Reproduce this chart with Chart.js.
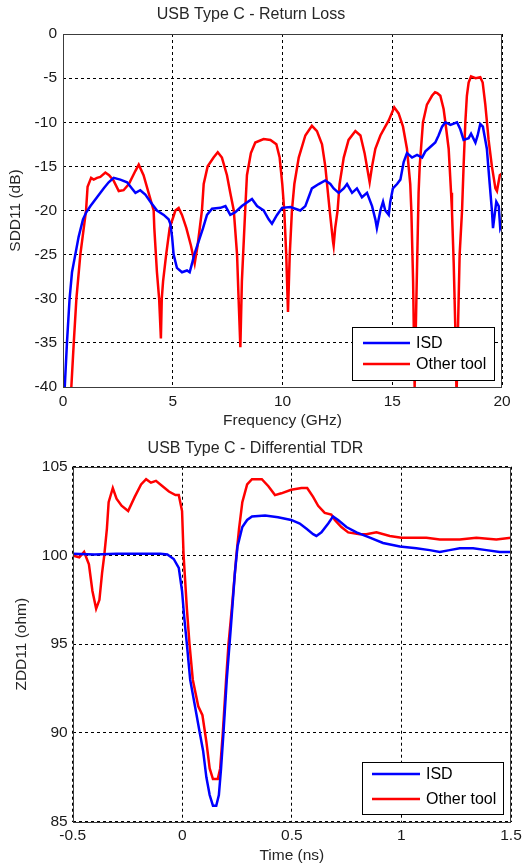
<!DOCTYPE html>
<html>
<head>
<meta charset="utf-8">
<title>USB Type C - Return Loss / Differential TDR</title>
<script src="https://cdn.jsdelivr.net/npm/chart.js@4.4.0/dist/chart.umd.min.js"></script>
<style>
  html, body { margin: 0; padding: 0; background: #fff; }
  #wrap { position: relative; width: 532px; height: 867px; }
  canvas { position: absolute; left: 0; }
</style>
</head>
<body>
<div id="wrap">
  <canvas id="rlChart" width="532" height="433" style="top:0"></canvas>
  <canvas id="tdrChart" width="532" height="434" style="top:433px"></canvas>
</div>
<script>
// --- Data ---
const seriesNames = ['ISD', 'Other tool'];

// Return loss (SDD11, dB) vs frequency (GHz)
const rlTicksX = [0, 5, 10, 15, 20];
const rlTicksY = [0, -5, -10, -15, -20, -25, -30, -35, -40];
const rlLabelsX = ['0', '5', '10', '15', '20'];
const rlLabelsY = ['0', '-5', '-10', '-15', '-20', '-25', '-30', '-35', '-40'];

const isdRlFreq = [0.05, 0.08, 0.18, 0.3, 0.41, 0.56, 0.71, 0.91, 1.06, 1.25, 1.55, 1.85, 2.08, 2.31, 2.61, 2.92, 3.14, 3.3, 3.52, 3.75,
  3.98, 4.28, 4.59, 4.81, 4.89, 4.97, 5.04, 5.19, 5.42, 5.65, 5.77, 5.88, 5.98, 6.18, 6.38, 6.56, 6.79, 7.17, 7.4, 7.62,
  7.85, 8.15, 8.61, 8.84, 9.14, 9.37, 9.52, 9.75, 9.98, 10.36, 10.81, 11.04, 11.19, 11.34, 11.65, 11.95, 12.18, 12.33, 12.56, 12.79,
  12.94, 13.17, 13.39, 13.62, 13.85, 14.08, 14.23, 14.3, 14.46, 14.58, 14.68, 14.84, 14.91, 15.03, 15.22, 15.37, 15.52, 15.67, 15.9, 16.13,
  16.36, 16.51, 16.73, 16.96, 17.11, 17.27, 17.42, 17.65, 17.95, 18.1, 18.25, 18.48, 18.59, 18.79, 18.89, 19.01, 19.13, 19.31, 19.44, 19.54,
  19.59, 19.74, 19.85, 19.92, 20];
const isdRlDb = [-41, -40, -35, -30, -27, -25, -23, -21, -20.2, -19.5, -18.5, -17.5, -16.8, -16.3, -16.5, -16.8, -17.5, -18, -17.7, -18.2,
  -19, -20, -20.5, -21, -21.5, -23, -25, -26.5, -27, -26.8, -27, -26, -25, -23.5, -22, -20.5, -19.8, -19.7, -19.5, -20.5,
  -20.2, -19.5, -18.7, -19.5, -20, -21, -21.5, -20.5, -19.7, -19.6, -20, -19.5, -18.5, -17.5, -17, -16.6, -17, -17.5, -18, -17.5,
  -17, -18, -17.5, -18.5, -18, -19.5, -21, -22, -20, -19, -20, -20.5, -19, -17.5, -17, -16.5, -14.5, -13.5, -14, -13.7,
  -14, -13.3, -12.8, -12.3, -11.5, -10.5, -10, -10.3, -10, -10.8, -12, -11.8, -11.3, -12.3, -11.5, -10.2, -10.5, -13, -17, -20,
  -22, -19, -19.5, -22, -21.5];

const otherRlFreq = [0.33, 0.38, 0.49, 0.61, 0.79, 1.05, 1.12, 1.28, 1.4, 1.55, 1.7, 1.93, 2.1, 2.3, 2.54, 2.76, 3.0, 3.3, 3.45, 3.67,
  3.9, 4.13, 4.16, 4.28, 4.38, 4.46, 4.5, 4.56, 4.7, 4.86, 5.12, 5.27, 5.42, 5.62, 5.83, 6.0, 6.13, 6.33, 6.41, 6.59,
  6.86, 7.05, 7.24, 7.47, 7.62, 7.78, 7.93, 8.0, 8.08, 8.15, 8.3, 8.38, 8.56, 8.76, 9.14, 9.45, 9.72, 9.87, 9.99, 10.08,
  10.17, 10.25, 10.33, 10.43, 10.54, 10.74, 11.04, 11.34, 11.57, 11.8, 11.95, 12.07, 12.15, 12.3, 12.33, 12.4, 12.51, 12.6, 12.79, 13.01,
  13.32, 13.55, 13.74, 13.97, 14.08, 14.23, 14.46, 14.68, 14.84, 15.09, 15.29, 15.49, 15.67, 15.82, 15.87, 15.95, 16.02, 16.1, 16.2, 16.25,
  16.4, 16.58, 16.81, 16.95, 17.05, 17.19, 17.34, 17.42, 17.57, 17.68, 17.72, 17.8, 17.87, 17.93, 17.98, 18.07, 18.18, 18.25, 18.33, 18.4,
  18.48, 18.59, 18.8, 19.01, 19.12, 19.24, 19.39, 19.54, 19.7, 19.77, 19.9, 20];
const otherRlDb = [-41, -40, -35, -30, -25, -20, -17.3, -16.3, -16.5, -16.3, -16.2, -15.7, -16, -16.6, -17.8, -17.7, -17, -15.5, -14.8, -16,
  -18, -20, -22, -27, -30, -34.5, -30, -28, -25, -22, -20, -19.7, -20.5, -22, -24, -26, -24, -20, -17, -15,
  -14, -13.4, -14, -16, -18, -20, -25, -30, -35.5, -28, -20, -16, -13.5, -12.3, -11.9, -12, -12.5, -14, -17, -20,
  -25, -31.5, -25, -20, -17, -14, -11.5, -10.4, -11, -12.5, -15, -18, -20, -23.5, -24, -22, -20, -17, -14, -12,
  -11, -11.5, -13.5, -16.8, -15, -13, -11.5, -10.5, -9.8, -8.3, -9, -10.5, -13, -17, -20, -28, -40, -30, -18, -15,
  -10, -8, -7, -6.6, -6.7, -7, -8.5, -10, -13, -18, -20, -26, -33, -41, -35, -25, -20, -15, -10, -7,
  -5.5, -4.8, -5, -4.9, -5.5, -8, -12, -15, -17.5, -17.8, -16, -15.8];

// Differential TDR (ZDD11, ohm) vs time (ns)
const tdrTicksX = [-0.5, 0, 0.5, 1, 1.5];
const tdrTicksY = [85, 90, 95, 100, 105];
const tdrLabelsX = ['-0.5', '0', '0.5', '1', '1.5'];
const tdrLabelsY = ['85', '90', '95', '100', '105'];

const isdTdrTime = [-0.5, -0.4, -0.3, -0.2, -0.1, -0.068, -0.039, -0.016, -0.001, 0.009, 0.021, 0.036, 0.058, 0.08, 0.095, 0.11, 0.125, 0.14, 0.155, 0.167,
  0.177, 0.188, 0.203, 0.222, 0.24, 0.252, 0.274, 0.296, 0.318, 0.378, 0.437, 0.497, 0.536, 0.567, 0.597, 0.612, 0.635, 0.666, 0.688, 0.711,
  0.749, 0.795, 0.856, 0.916, 0.993, 1.068, 1.129, 1.175, 1.22, 1.266, 1.327, 1.388, 1.448, 1.5];
const isdTdrOhm = [100.1, 100.05, 100.1, 100.1, 100.1, 100.05, 99.8, 99.3, 98, 96.5, 95, 93, 91.5, 90, 89, 87.5, 86.5, 85.9, 85.9, 86.5,
  88, 90, 93, 96, 99, 100.5, 101.6, 102, 102.2, 102.25, 102.15, 102, 101.8, 101.5, 101.2, 101.1, 101.3, 101.8, 102.2, 102,
  101.6, 101.3, 101, 100.7, 100.5, 100.4, 100.3, 100.2, 100.3, 100.4, 100.4, 100.3, 100.2, 100.2];

const otherTdrTime = [-0.5, -0.47, -0.448, -0.426, -0.41, -0.393, -0.378, -0.366, -0.356, -0.344, -0.336, -0.317, -0.3, -0.277, -0.247, -0.217, -0.188, -0.165, -0.143, -0.12,
  -0.09, -0.061, -0.031, -0.016, -0.001, 0.006, 0.021, 0.033, 0.048, 0.073, 0.092, 0.11, 0.125, 0.14, 0.162, 0.173, 0.185, 0.2, 0.211, 0.226,
  0.247, 0.259, 0.274, 0.296, 0.318, 0.363, 0.393, 0.423, 0.452, 0.497, 0.544, 0.57, 0.597, 0.62, 0.65, 0.68, 0.696, 0.726, 0.757, 0.81,
  0.84, 0.886, 0.947, 1.0, 1.114, 1.175, 1.266, 1.342, 1.433, 1.5];
const otherTdrOhm = [100, 99.9, 100.2, 99.5, 98, 97, 97.5, 99, 100, 101.5, 103, 103.8, 103.2, 102.8, 102.5, 103.3, 104, 104.3, 104.1, 104.2,
  103.9, 103.6, 103.4, 103.4, 102.5, 100, 97, 95, 93, 91.5, 91, 89.5, 88, 87.4, 87.4, 88, 90, 93, 95, 97,
  100, 101.5, 103, 104, 104.3, 104.3, 103.9, 103.4, 103.5, 103.7, 103.8, 103.8, 103.3, 102.8, 102.4, 102.3, 102, 101.6, 101.3, 101.2,
  101.2, 101.3, 101.1, 101, 101, 100.9, 100.9, 101, 100.9, 101];

// --- Helpers ---
const FONT = '"Liberation Sans", Arial, sans-serif';
const BLUE = '#0000ff';
const RED = '#ff0000';

function toPoints(xs, ys) {
  return xs.map((x, i) => ({ x: x, y: ys[i] }));
}

// Draws the MATLAB-style box round the plot area and the boxed legend on top of the data
const matlabFrame = {
  id: 'matlabFrame',
  afterDatasetsDraw(chart, args, opts) {
    const { ctx, chartArea: a } = chart;
    ctx.save();
    ctx.strokeStyle = '#3c3c3c';
    ctx.lineWidth = 1;
    ctx.setLineDash([]);
    ctx.strokeRect(Math.round(a.left) + 0.5, Math.round(a.top) + 0.5,
      Math.round(a.right - a.left) - 1, Math.round(a.bottom - a.top));

    const lg = opts.legend;
    ctx.fillStyle = '#fff';
    ctx.fillRect(lg.x, lg.y, lg.w, lg.h);
    ctx.strokeStyle = '#000';
    ctx.strokeRect(lg.x + 0.5, lg.y + 0.5, lg.w, lg.h);
    ctx.font = '16px ' + FONT;
    ctx.textBaseline = 'middle';
    ctx.textAlign = 'left';
    chart.data.datasets.forEach((ds, i) => {
      const y = lg.rows[i];
      ctx.strokeStyle = ds.borderColor;
      ctx.lineWidth = 2.5;
      ctx.beginPath();
      ctx.moveTo(lg.lineX1, y);
      ctx.lineTo(lg.lineX2, y);
      ctx.stroke();
      ctx.fillStyle = '#000';
      ctx.fillText(ds.label, lg.textX, y + 1);
    });
    ctx.restore();
  }
};

function makeChart(canvasId, cfg) {
  const ctx = document.getElementById(canvasId).getContext('2d');
  return new Chart(ctx, {
    type: 'line',
    data: {
      datasets: [
        { label: seriesNames[0], data: cfg.isd, borderColor: BLUE, borderWidth: 2.5, pointRadius: 0, fill: false },
        { label: seriesNames[1], data: cfg.other, borderColor: RED, borderWidth: 2.5, pointRadius: 0, fill: false }
      ]
    },
    options: {
      responsive: false,
      animation: false,
      devicePixelRatio: 1,
      layout: { padding: { left: 0, right: cfg.padRight, top: 0, bottom: 0 } },
      plugins: {
        legend: { display: false },
        tooltip: { enabled: false },
        title: {
          display: true,
          text: cfg.title,
          color: '#262626',
          font: { family: FONT, size: 16, weight: 'normal' },
          padding: cfg.titlePad
        },
        matlabFrame: { legend: cfg.legend }
      },
      scales: {
        x: {
          type: 'linear',
          min: cfg.ticksX[0],
          max: cfg.ticksX[cfg.ticksX.length - 1],
          afterBuildTicks: s => { s.ticks = cfg.ticksX.map(v => ({ value: v })); },
          afterFit: s => { s.height = cfg.xAxisH; },
          grid: { color: '#000', lineWidth: 1, drawTicks: false },
          border: { display: false, dash: [3, 3] },
          ticks: {
            padding: cfg.xTickPad,
            color: '#1a1a1a',
            font: { family: FONT, size: 15.5 },
            maxRotation: 0,
            callback: (v, i) => cfg.labelsX[i]
          },
          title: {
            display: true,
            text: cfg.xTitle,
            color: '#262626',
            font: { family: FONT, size: 15.5 },
            padding: { top: 0, bottom: cfg.xTitlePad }
          }
        },
        y: {
          type: 'linear',
          min: Math.min(...cfg.ticksY),
          max: Math.max(...cfg.ticksY),
          afterBuildTicks: s => { s.ticks = cfg.ticksY.slice().sort((a, b) => a - b).map(v => ({ value: v })); },
          afterFit: s => { s.width = cfg.yAxisW; },
          grid: { color: '#000', lineWidth: 1, drawTicks: false },
          border: { display: false, dash: [3, 3] },
          ticks: {
            padding: cfg.yTickPad,
            color: '#1a1a1a',
            font: { family: FONT, size: 15.5 },
            callback: v => cfg.labelsY[cfg.ticksY.indexOf(v)]
          },
          title: {
            display: true,
            text: cfg.yTitle,
            color: '#262626',
            font: { family: FONT, size: 15.5 },
            padding: { top: cfg.yTitlePad, bottom: 0 }
          }
        }
      }
    },
    plugins: [matlabFrame]
  });
}

// --- Return loss chart ---
makeChart('rlChart', {
  title: 'USB Type C - Return Loss',
  titlePad: { top: 5.4, bottom: 9.4 },
  xTitle: 'Frequency (GHz)',
  yTitle: 'SDD11 (dB)',
  isd: toPoints(isdRlFreq, isdRlDb),
  other: toPoints(otherRlFreq, otherRlDb),
  ticksX: rlTicksX, labelsX: rlLabelsX,
  ticksY: rlTicksY, labelsY: rlLabelsY,
  padRight: 30, yAxisW: 63, xAxisH: 46,
  xTickPad: 5, yTickPad: 6, xTitlePad: 2.7, yTitlePad: 6.7,
  legend: { x: 352, y: 327, w: 142, h: 53, lineX1: 363, lineX2: 410, textX: 416, rows: [343, 364] }
});

// --- Differential TDR chart ---
makeChart('tdrChart', {
  title: 'USB Type C - Differential TDR',
  titlePad: { top: 6.4, bottom: 8.1 },
  xTitle: 'Time (ns)',
  yTitle: 'ZDD11 (ohm)',
  isd: toPoints(isdTdrTime, isdTdrOhm),
  other: toPoints(otherTdrTime, otherTdrOhm),
  ticksX: tdrTicksX, labelsX: tdrLabelsX,
  ticksY: tdrTicksY, labelsY: tdrLabelsY,
  padRight: 21, yAxisW: 72.7, xAxisH: 45.3,
  xTickPad: 4.5, yTickPad: 5, xTitlePad: 1.7, yTitlePad: 12.4,
  legend: { x: 362, y: 329, w: 141, h: 52, lineX1: 372, lineX2: 420, textX: 426, rows: [341, 366] }
});
</script>
</body>
</html>
